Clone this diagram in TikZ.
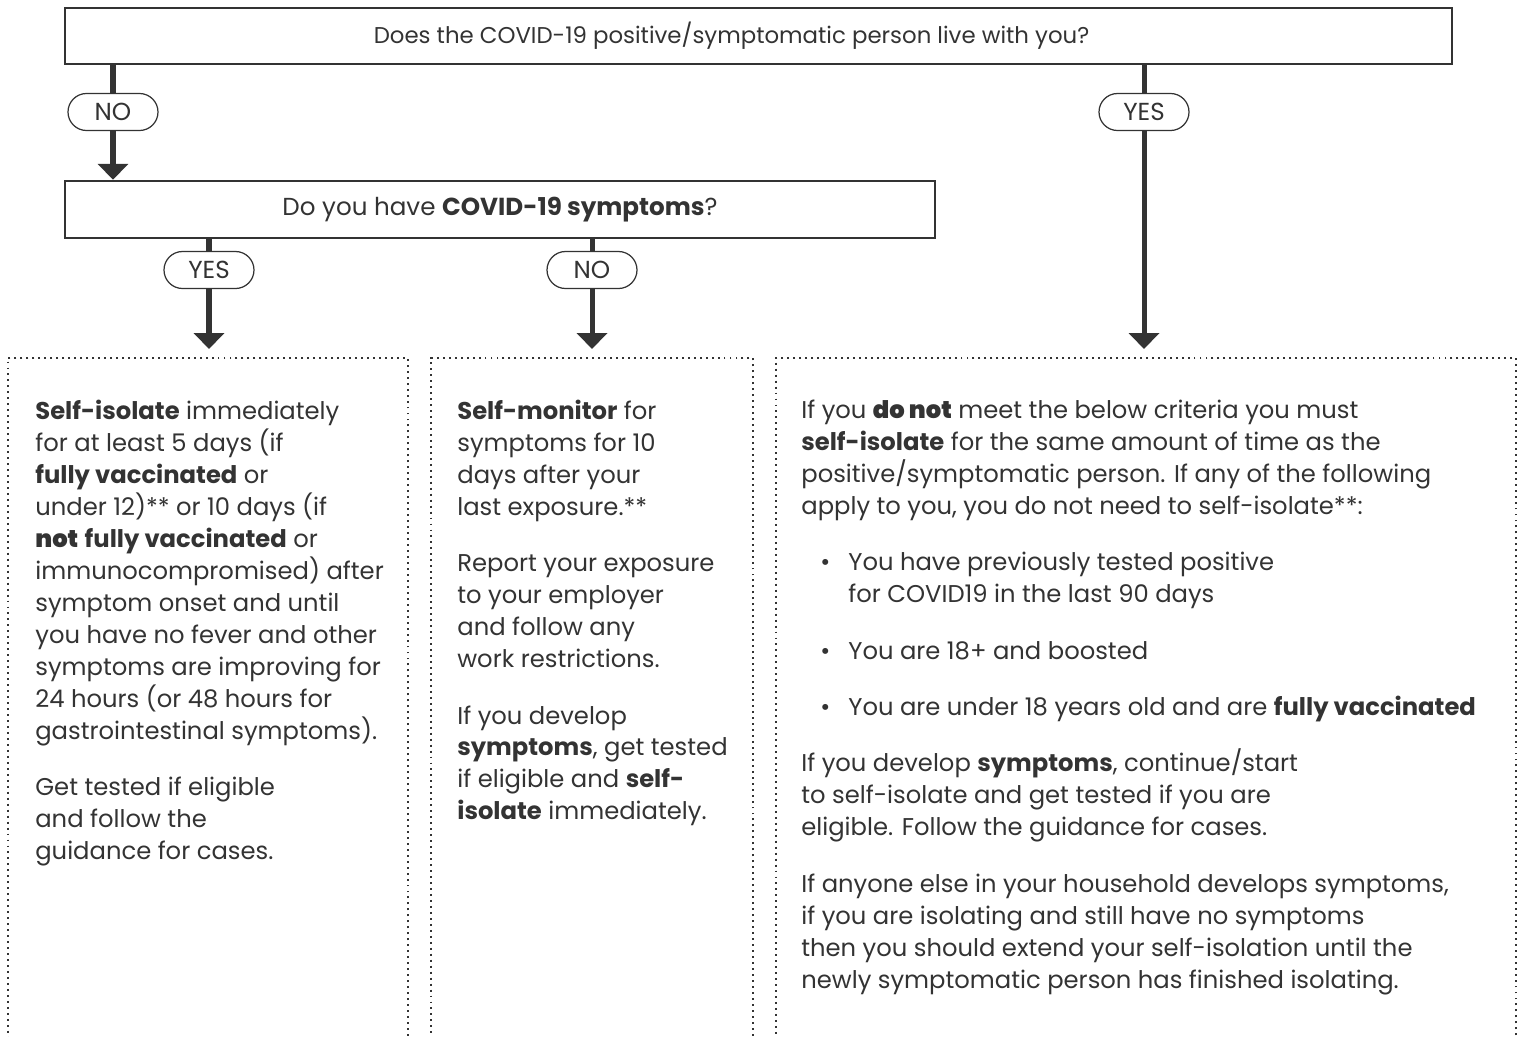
\documentclass[tikz,border=0pt]{standalone}
\usepackage{fontspec}
\setmainfont{Poppins}
\newfontfamily\heavyfont{Poppins Black}
\usetikzlibrary{arrows.meta,positioning}
\definecolor{ink}{HTML}{333333}
\newcommand{\gap}{\\[13.9pt]}
\newcommand{\dotitem}{\hspace*{0.38cm}\makebox[0.56cm][l]{\textbullet}}
\newcommand{\itemrest}{\hspace*{0.94cm}}

\begin{document}
\begin{tikzpicture}[
    every node/.style={text=ink,font=\fontsize{13.8}{18.2}\selectfont},
    qbox/.style={draw=ink,line width=1.4pt,inner sep=0pt},
    pill/.style={draw=ink,line width=0.7pt,fill=white,rounded corners=0.37cm,
      minimum width=1.8cm,minimum height=0.74cm,inner sep=0pt,
      font=\fontsize{14}{16}\selectfont},
    flow/.style={draw=ink,line width=2.85pt},
    tip/.style={-{Triangle[width=0.6cm,length=0.32cm]}},
    dotbox/.style={draw=ink,line width=1.1pt,dash pattern=on 1.1pt off 2.3pt,
      anchor=north west,inner sep=0pt,minimum height=14.4cm},
    body/.style={align=left,anchor=north west,inner sep=0pt}
  ]
  \useasboundingbox (0,0) rectangle (30.46,-20.72);

  % questions
  \node[qbox,minimum width=27.74cm,minimum height=1.12cm] (live) at (15.17,-0.72) {};
  \node[font=\fontsize{13}{15}\selectfont] (liveq) at (14.63,-0.72)
    {Does the COVID-19 positive/symptomatic person live with you?};
  \node[qbox,minimum width=17.4cm,minimum height=1.14cm,font=\fontsize{14}{16}\selectfont]
    (symp) at (10.0,-4.19) {Do you have \textbf{COVID-19 symptoms}?};

  % answers
  \node[pill] (no1) at (2.26,-2.24) {NO};
  \node[pill] (yes2) at (22.88,-2.24) {YES};
  \node[pill] (yes1) at (4.18,-5.40) {YES};
  \node[pill] (no2) at (11.84,-5.40) {NO};

  % outcome boxes
  \node[dotbox,minimum width=8.0cm] (isolate) at (0.14,-7.14) {};
  \node[dotbox,minimum width=6.44cm] (monitor) at (8.60,-7.14) {};
  \node[dotbox,minimum width=14.8cm] (house) at (15.50,-7.14) {};

  % connectors
  \draw[flow] (live.south -| no1) -- (no1.north);
  \draw[flow,tip] (no1.south) -- (symp.north -| no1);
  \draw[flow] (symp.south -| yes1) -- (yes1.north);
  \draw[flow,tip,shorten >=0.16cm] (yes1.south) -- (isolate.north -| yes1);
  \draw[flow] (symp.south -| no2) -- (no2.north);
  \draw[flow,tip,shorten >=0.16cm] (no2.south) -- (monitor.north -| no2);
  \draw[flow] (live.south -| yes2) -- (yes2.north);
  \draw[flow,tip,shorten >=0.16cm] (yes2.south) -- (house.north -| yes2);

  % texts
  \node[body] (isotext) at (0.70,-7.99) {%
    \textbf{Self-isolate} immediately\\
    for at least 5 days (if\\
    \textbf{fully vaccinated} or\\
    under 12)** or 10 days (if\\
    {\heavyfont not} \textbf{fully vaccinated} or\\
    immunocompromised) after\\
    symptom onset and until\\
    you have no fever and other\\
    symptoms are improving for\\
    24 hours (or 48 hours for\\
    gastrointestinal symptoms).\gap
    Get tested if eligible\\
    and follow the\\
    guidance for cases.};

  \node[body] (montext) at (9.14,-7.99) {%
    \textbf{Self-monitor} for\\
    symptoms for 10\\
    days after your\\
    last exposure.**\gap
    Report your exposure\\
    to your employer\\
    and follow any\\
    work restrictions.\gap
    If you develop\\
    \textbf{symptoms}, get tested\\
    if eligible and \textbf{self-}\\
    \textbf{isolate} immediately.};

  \node[body] (housetext) at (16.02,-7.99) {%
    If you {\heavyfont do not} meet the below criteria you must\\
    \textbf{self-isolate} for the same amount of time as the\\
    positive/symptomatic person. If any of the following\\
    apply to you, you do not need to self-isolate**:\gap
    \dotitem You have previously tested positive\\
    \itemrest for COVID19 in the last 90 days\gap
    \dotitem You are 18+ and boosted\gap
    \dotitem You are under 18 years old and are \textbf{fully vaccinated}\gap
    If you develop \textbf{symptoms}, continue/start\\
    to self-isolate and get tested if you are\\
    eligible. Follow the guidance for cases.\gap
    If anyone else in your household develops symptoms,\\
    if you are isolating and still have no symptoms\\
    then you should extend your self-isolation until the\\
    newly symptomatic person has finished isolating.};
\end{tikzpicture}
\end{document}
